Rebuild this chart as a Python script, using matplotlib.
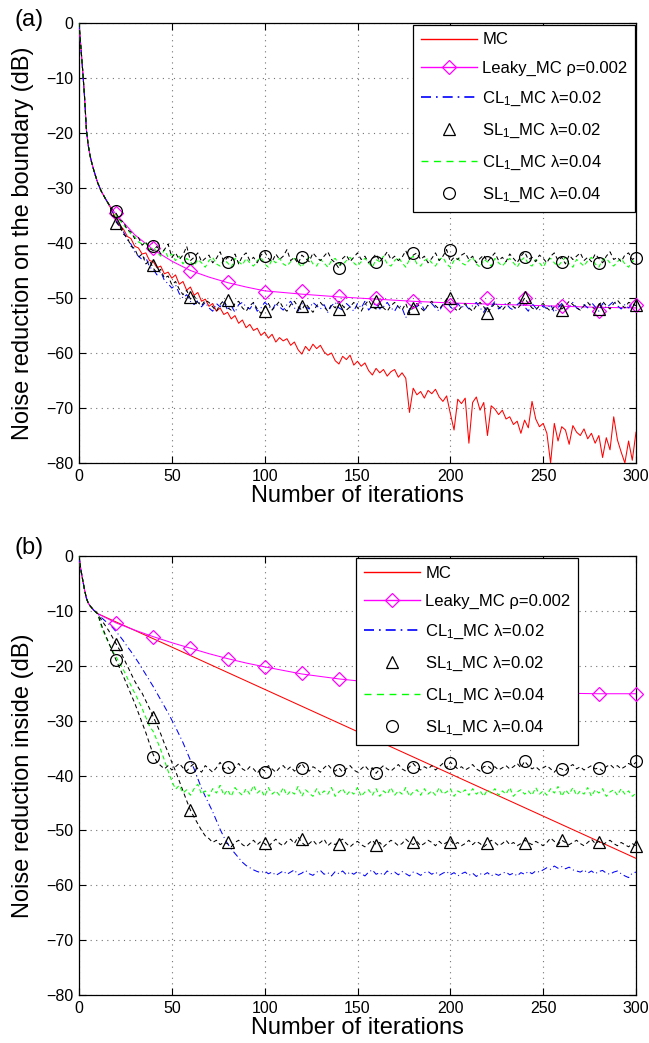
import numpy as np
import matplotlib
matplotlib.use("Agg")
import matplotlib.pyplot as plt
from matplotlib.lines import Line2D

plt.rcParams['font.family'] = ['Liberation Sans', 'DejaVu Sans']
plt.rcParams['mathtext.fontset'] = 'custom'
plt.rcParams['mathtext.rm'] = 'Liberation Sans'
plt.rcParams['mathtext.it'] = 'Liberation Sans:italic'
plt.rcParams['mathtext.default'] = 'regular'

# ---------------- iterations ----------------
iters = np.r_[0:10, 10:301:2]          # dense series sampling
mark_iters = np.arange(20, 301, 20)    # marker positions

x_ticks = [0, 50, 100, 150, 200, 250, 300]
y_ticks = [0, -10, -20, -30, -40, -50, -60, -70, -80]

labels = ['MC', 'Leaky_MC ρ=0.002', 'CL$_1$_MC λ=0.02', 'SL$_1$_MC λ=0.02',
          'CL$_1$_MC λ=0.04', 'SL$_1$_MC λ=0.04']

# ---------------- panel (a): boundary ----------------
early_a = [0, -4.3, -8.7, -13.5, -19.5, -22.3, -24.2, -25.6, -26.8, -27.9]

mc_a = early_a + [
    -29.0, -30.6, -31.8, -33.0, -34.2, -35.8, -36.9, -37.5, -38.8, -39.2,
    -40.6, -40.9, -42.0, -41.8, -43.2, -43.4, -44.5, -44.2, -45.6, -45.3,
    -46.4, -45.8, -47.5, -47.0, -48.6, -48.0, -49.5, -49.0, -50.6, -50.2,
    -51.5, -51.0, -52.4, -51.8, -53.0, -52.6, -53.8, -53.2, -54.6, -54.0,
    -55.4, -54.8, -55.9, -55.5, -56.8, -56.2, -57.3, -56.6, -58.0, -57.2,
    -57.8, -57.4, -58.6, -58.0, -59.4, -60.2, -58.8, -59.6, -58.4, -59.2,
    -58.6, -59.8, -60.4, -60.0, -61.4, -62.0, -60.6, -61.2, -60.4, -62.2,
    -61.5, -62.4, -61.8, -63.2, -64.0, -62.8, -63.6, -63.0, -64.2, -63.4,
    -63.0, -64.4, -63.6, -64.6, -70.8, -66.4, -67.6, -67.0, -68.2, -66.8,
    -67.4, -66.6, -68.0, -68.8, -67.8, -71.0, -74.0, -68.4, -69.2, -68.2,
    -76.4, -69.0, -68.0, -70.4, -69.0, -75.0, -69.6, -70.2, -71.2, -70.4,
    -72.0, -71.6, -73.0, -72.4, -74.6, -72.2, -73.6, -68.8, -72.0, -73.4,
    -72.8, -74.6, -80.0, -72.8, -76.0, -73.4, -74.0, -76.6, -73.2, -74.4,
    -75.0, -73.8, -75.6, -74.6, -76.4, -75.0, -79.0, -75.4, -77.6, -71.6,
    -75.8, -78.0, -80.0, -76.0, -79.5, -74.4]

cl02_a = early_a + [
    -29.0, -30.6, -31.8, -33.0, -34.3, -35.9, -37.2, -38.0, -39.4, -40.2,
    -41.6, -42.4, -43.0, -42.6, -44.4, -44.8, -45.8, -45.2, -46.8, -47.4,
    -48.2, -47.6, -49.2, -50.0, -49.4, -50.6, -51.2, -50.4, -51.6, -50.8,
    -51.8, -52.4, -51.0, -51.6, -50.6, -52.2, -51.4, -52.6, -51.2, -50.8,
    -51.6, -52.0, -51.0, -52.4, -51.8, -50.8, -51.4, -52.2, -51.0, -51.6,
    -52.2, -51.2, -50.6, -51.8, -52.4, -51.0, -51.6, -52.0, -50.8, -51.4,
    -52.0, -51.2, -52.6, -51.4, -50.8, -51.8, -52.2, -51.0, -51.6, -52.4,
    -51.0, -51.8, -50.6, -52.2, -51.4, -51.0, -52.0, -51.6, -50.8, -51.8,
    -52.4, -51.2, -51.8, -53.6, -52.0, -51.0, -51.6, -50.8, -52.2, -51.4,
    -51.0, -51.8, -52.4, -51.2, -50.6, -51.6, -52.2, -51.0, -51.8, -51.2,
    -52.0, -51.4, -50.8, -51.8, -52.6, -51.2, -51.6, -50.6, -52.0, -51.4,
    -51.0, -51.8, -52.2, -51.2, -50.6, -51.6, -52.4, -51.0, -51.8, -52.2,
    -51.4, -52.0, -51.2, -52.6, -51.8, -51.0, -52.2, -51.6, -50.8, -51.8,
    -52.2, -51.2, -51.8, -50.8, -51.6, -52.4, -51.0, -51.8, -51.2, -50.6,
    -51.4, -52.0, -51.2, -51.8, -51.0, -51.6]

sl02_a = early_a + [
    -29.0, -30.6, -31.8, -33.0, -34.4, -36.2, -37.0, -38.4, -39.0, -40.6,
    -41.0, -42.6, -42.0, -43.8, -43.2, -44.6, -45.4, -44.8, -46.4, -46.0,
    -47.6, -47.0, -48.4, -49.4, -48.6, -50.2, -49.6, -50.8, -51.4, -50.4,
    -50.8, -51.6, -52.4, -51.2, -50.4, -51.8, -52.2, -51.0, -50.6, -51.8,
    -52.4, -51.4, -50.8, -52.0, -52.8, -51.6, -51.0, -52.2, -51.4, -50.6,
    -51.8, -52.4, -51.2, -50.6, -51.6, -52.2, -51.0, -51.8, -52.6, -51.4,
    -50.8, -51.6, -52.4, -51.2, -51.8, -50.6, -51.4, -52.2, -51.6, -50.8,
    -51.8, -52.4, -51.2, -50.4, -51.6, -52.0, -51.0, -51.8, -52.4, -51.4,
    -50.8, -51.6, -52.2, -51.0, -52.8, -51.6, -51.0, -51.8, -52.4, -51.2,
    -50.6, -51.4, -52.0, -51.2, -50.2, -51.0, -51.8, -52.4, -51.6, -51.0,
    -51.8, -52.4, -51.4, -50.8, -51.6, -52.6, -51.8, -51.0, -51.6, -52.2,
    -51.4, -50.8, -51.6, -52.0, -51.2, -50.0, -51.0, -51.8, -52.2, -51.4,
    -51.0, -51.8, -52.4, -51.6, -51.0, -52.0, -51.4, -50.6, -51.2, -51.8,
    -52.2, -51.4, -50.8, -51.6, -52.0, -51.2, -50.6, -51.4, -52.0, -51.0,
    -50.4, -51.2, -51.8, -50.8, -51.0, -51.4]

cl04_a = early_a + [
    -29.0, -30.6, -31.8, -32.9, -33.9, -35.0, -35.8, -36.8, -37.4, -38.4,
    -38.8, -39.8, -40.2, -40.0, -41.2, -40.8, -41.6, -42.4, -41.2, -42.6,
    -42.0, -43.2, -42.4, -43.8, -42.8, -43.4, -44.2, -43.0, -43.6, -44.4,
    -43.2, -42.6, -43.8, -44.2, -43.0, -43.6, -44.4, -42.8, -43.4, -44.0,
    -42.8, -43.6, -44.2, -43.2, -42.6, -43.8, -44.4, -43.0, -43.6, -42.8,
    -43.8, -44.2, -43.4, -42.8, -43.6, -44.4, -43.2, -42.6, -43.8, -44.2,
    -43.0, -43.6, -44.4, -43.2, -42.8, -43.8, -44.0, -43.2, -42.6, -43.6,
    -44.2, -43.4, -42.8, -43.6, -44.4, -43.0, -43.4, -42.4, -43.8, -44.2,
    -43.2, -42.6, -43.6, -44.4, -43.0, -42.4, -43.8, -44.2, -43.2, -42.8,
    -43.6, -44.2, -43.0, -42.6, -43.8, -44.4, -43.2, -42.8, -43.6, -44.0,
    -43.2, -42.6, -43.8, -44.4, -43.0, -43.4, -44.2, -42.8, -43.6, -44.2,
    -43.4, -42.8, -43.6, -44.4, -43.2, -42.6, -43.8, -44.2, -43.0, -43.6,
    -44.4, -43.2, -42.8, -43.6, -44.2, -43.4, -42.6, -43.8, -44.4, -43.0,
    -43.6, -44.2, -43.2, -42.6, -43.8, -44.4, -43.0, -42.8, -43.6, -44.2,
    -43.4, -42.8, -43.8, -44.4, -43.2, -43.6]

sl04_a = early_a + [
    -29.0, -30.6, -31.8, -32.9, -33.9, -34.6, -35.8, -36.2, -37.6, -38.0,
    -39.2, -39.0, -40.4, -39.8, -41.0, -41.4, -40.6, -42.0, -41.2, -40.2,
    -42.6, -41.8, -43.0, -42.2, -40.6, -43.2, -42.6, -41.8, -43.4, -42.8,
    -42.2, -43.6, -42.8, -41.6, -43.4, -42.6, -43.2, -42.0, -43.8, -42.4,
    -41.8, -43.2, -42.6, -43.6, -42.2, -41.6, -42.8, -43.4, -42.0, -43.0,
    -42.4, -41.2, -43.2, -42.6, -43.8, -42.2, -42.8, -43.4, -41.8, -42.6,
    -43.2, -42.4, -41.6, -43.0, -43.6, -44.6, -42.8, -42.2, -43.4, -42.6,
    -41.8, -43.0, -42.4, -43.6, -42.8, -42.0, -43.4, -42.6, -41.6, -43.0,
    -42.4, -43.2, -42.6, -41.4, -43.0, -42.2, -41.8, -43.0, -42.4, -43.6,
    -42.8, -41.8, -43.2, -42.4, -41.2, -43.4, -42.6, -43.0, -42.2, -41.8,
    -43.0, -42.4, -43.6, -42.8, -42.2, -43.4, -42.6, -41.8, -43.2, -42.6,
    -43.4, -42.0, -42.8, -43.6, -42.4, -41.6, -43.0, -42.6, -43.4, -42.2,
    -42.8, -43.6, -42.4, -41.8, -43.2, -42.6, -43.8, -42.2, -43.0, -42.4,
    -41.8, -43.2, -42.6, -43.4, -42.0, -42.8, -43.6, -42.4, -41.6, -43.0,
    -42.6, -43.4, -42.2, -41.8, -43.0, -42.6]

leaky_a_iters = [0, 1, 2, 3, 4, 5, 6, 7, 8, 9, 10, 12, 14, 16, 18, 20, 30, 40, 50,
                 60, 70, 80, 90, 100, 120, 140, 160, 180, 200, 220, 240, 260, 280, 300]
leaky_a = early_a + [-29.0, -30.6, -31.8, -32.9, -33.9, -34.8, -38.5, -41.2, -43.3,
                     -45.0, -46.2, -47.2, -48.0, -48.7, -49.3, -49.8, -50.2, -50.6,
                     -50.9, -51.1, -51.3, -51.5, -51.7, -51.8]

leaky_mk_a = [-34.6, -40.9, -45.0, -47.0, -48.9, -48.8, -49.7, -50.0, -50.6, -51.2,
              -50.0, -50.0, -51.4, -52.3, -51.2]
tri_mk_a = [-36.3, -44.0, -49.8, -50.4, -52.3, -51.4, -52.0, -50.6, -51.8, -50.0,
            -52.8, -49.9, -52.1, -52.0, -51.2]
circ_mk_a = [-34.1, -40.6, -42.8, -43.4, -42.3, -42.5, -44.6, -43.4, -41.9, -41.3,
             -43.4, -42.5, -43.4, -43.7, -42.8]

# ---------------- panel (b): inside ----------------
early_b = [0, -2.5, -4.4, -6.2, -7.7, -8.6, -9.1, -9.5, -9.9, -10.2]

mc_b_iters = [0, 1, 2, 3, 4, 5, 6, 7, 8, 9, 10, 50, 100, 150, 200, 250, 300]
mc_b = early_b + [-10.5, -16.6, -24.3, -32.0, -39.7, -47.4, -55.1]

leaky_b_iters = [0, 1, 2, 3, 4, 5, 6, 7, 8, 9, 10, 20, 30, 40, 50, 60, 70, 80, 90,
                 100, 120, 140, 160, 180, 200, 220, 240, 260, 280, 300]
leaky_b = early_b + [-10.5, -12.2, -13.5, -14.7, -15.8, -16.8, -17.8, -18.7, -19.5,
                     -20.2, -21.5, -22.4, -23.1, -23.7, -24.1, -24.5, -24.8, -25.0,
                     -25.1, -25.1]

cl02_b = early_b + [
    -10.5, -11.2, -11.8, -12.4, -13.0, -13.8, -14.6, -15.5, -16.5, -17.4,
    -18.4, -19.4, -20.5, -21.6, -22.7, -23.8, -25.0, -26.2, -27.4, -28.6,
    -29.9, -31.2, -32.6, -34.0, -35.6, -37.2, -38.8, -40.6, -42.3, -43.8,
    -45.2, -46.6, -48.2, -49.8, -51.2, -52.4, -53.4, -54.2, -55.0, -55.8,
    -56.4, -56.8, -57.2, -57.5, -57.7, -57.4, -57.9, -57.6, -58.2, -57.8,
    -57.4, -58.0, -57.6, -57.2, -58.1, -57.8, -57.3, -57.9, -58.2, -57.6,
    -57.3, -58.0, -57.7, -58.3, -57.5, -57.9, -57.4, -58.1, -57.6, -58.0,
    -57.5, -57.9, -58.3, -57.6, -57.2, -58.0, -57.7, -58.2, -57.4, -57.9,
    -57.6, -58.1, -57.5, -57.9, -58.3, -57.6, -57.8, -58.2, -57.7, -57.5,
    -58.0, -57.6, -58.2, -57.8, -57.5, -58.1, -57.7, -58.3, -57.9, -57.6,
    -58.2, -57.8, -58.4, -57.9, -58.1, -57.7, -58.3, -57.9, -58.2, -57.8,
    -57.6, -58.1, -57.8, -58.3, -57.7, -58.0, -57.5, -57.9, -57.4, -57.6,
    -57.2, -56.8, -57.1, -56.5, -56.9, -56.6, -57.0, -56.7, -57.2, -57.4,
    -57.6, -57.2, -57.8, -57.4, -57.9, -57.5, -57.3, -57.8, -58.0, -57.6,
    -57.4, -57.9, -58.3, -58.6, -57.8, -57.6]

cl04_b = early_b + [
    -10.5, -12.8, -14.5, -15.9, -17.2, -18.4, -19.6, -20.8, -22.2, -23.6,
    -25.0, -26.3, -27.8, -29.4, -31.0, -32.0, -33.6, -35.3, -37.2, -39.2,
    -41.0, -42.5, -41.8, -43.2, -42.6, -43.6, -42.4, -41.6, -43.4, -42.8,
    -43.8, -42.4, -43.2, -41.8, -43.6, -42.6, -43.8, -42.2, -43.0, -43.6,
    -42.4, -43.4, -41.8, -43.2, -42.6, -43.8, -42.2, -43.4, -42.8, -43.6,
    -42.2, -43.6, -42.8, -43.4, -42.0, -43.8, -42.6, -43.2, -43.8, -42.4,
    -43.6, -42.8, -43.4, -42.2, -43.8, -43.0, -42.4, -43.6, -42.8, -43.4,
    -42.2, -43.8, -43.0, -42.6, -43.6, -42.4, -43.8, -42.8, -43.4, -42.2,
    -43.6, -42.8, -43.4, -42.2, -43.8, -43.0, -42.6, -43.6, -42.4, -43.4,
    -42.8, -43.6, -42.2, -43.4, -43.0, -42.4, -43.8, -42.8, -43.2, -42.6,
    -43.6, -42.4, -43.4, -42.8, -43.8, -42.6, -43.2, -42.4, -43.6, -42.8,
    -43.4, -42.2, -43.8, -43.0, -42.6, -43.4, -42.8, -43.6, -42.2, -43.4,
    -42.8, -43.6, -42.4, -43.2, -42.0, -43.8, -42.6, -43.4, -42.2, -43.6,
    -42.8, -43.4, -42.2, -43.8, -42.6, -43.2, -42.4, -43.8, -43.0, -42.6,
    -43.6, -42.4, -43.4, -42.8, -43.8, -43.2]

sl02_b = early_b + [
    -10.5, -11.6, -12.6, -13.6, -14.8, -16.0, -17.2, -18.6, -20.0, -21.4,
    -22.8, -24.0, -25.0, -26.4, -27.8, -29.3, -30.8, -32.4, -34.2, -35.8,
    -37.6, -39.2, -41.0, -42.8, -44.6, -46.3, -47.6, -48.8, -50.0, -51.0,
    -51.5, -52.2, -51.8, -52.6, -52.2, -52.4, -53.0, -52.2, -51.8, -52.6,
    -53.0, -52.4, -51.8, -52.6, -52.0, -52.4, -53.0, -52.2, -51.6, -52.4,
    -52.8, -52.0, -51.6, -52.4, -51.2, -52.2, -52.8, -52.4, -51.8, -52.6,
    -52.2, -51.6, -52.8, -52.2, -52.6, -52.0, -51.6, -52.4, -53.0, -52.4,
    -52.0, -52.6, -53.0, -52.4, -51.8, -52.6, -52.2, -53.0, -52.4, -51.8,
    -52.2, -52.8, -52.4, -51.6, -52.2, -52.6, -52.0, -52.8, -52.4, -51.8,
    -52.2, -52.8, -52.0, -52.6, -52.2, -51.8, -52.6, -52.2, -52.8, -52.4,
    -51.8, -52.6, -52.0, -52.4, -53.0, -52.4, -51.8, -52.2, -52.8, -52.4,
    -51.8, -52.6, -52.2, -52.8, -52.4, -51.8, -52.2, -52.6, -52.0, -52.4,
    -52.8, -52.2, -51.4, -52.0, -52.6, -51.8, -52.2, -52.6, -52.2, -51.8,
    -52.4, -52.8, -52.2, -51.6, -52.4, -52.0, -52.6, -52.2, -51.8, -52.4,
    -52.8, -52.2, -52.6, -53.0, -52.4, -52.8]

sl04_b = early_b + [
    -10.5, -12.5, -14.2, -15.8, -17.4, -19.0, -20.5, -22.0, -23.6, -25.2,
    -26.8, -28.6, -30.4, -32.2, -34.2, -36.2, -37.6, -38.2, -38.8, -38.2,
    -39.0, -38.4, -37.8, -38.6, -39.2, -38.4, -37.8, -38.8, -39.4, -38.2,
    -38.8, -39.4, -38.6, -37.6, -38.8, -38.4, -39.2, -38.6, -37.8, -38.8,
    -39.2, -38.4, -38.8, -39.6, -38.6, -39.2, -38.2, -38.8, -39.4, -38.6,
    -38.2, -39.0, -38.4, -39.2, -38.6, -37.8, -38.8, -39.2, -38.4, -38.8,
    -39.4, -38.6, -38.0, -38.8, -39.2, -38.6, -39.4, -38.8, -38.2, -39.0,
    -39.4, -38.8, -38.2, -39.0, -38.6, -39.6, -38.8, -38.2, -38.8, -39.2,
    -38.6, -38.0, -38.8, -39.2, -38.4, -37.8, -38.6, -39.0, -38.4, -38.8,
    -38.2, -39.0, -38.4, -37.8, -38.6, -37.6, -38.2, -38.8, -38.4, -39.0,
    -38.6, -38.0, -38.8, -39.2, -38.4, -38.2, -38.8, -38.4, -39.0, -38.6,
    -38.2, -38.8, -38.4, -37.8, -38.6, -37.4, -38.2, -38.8, -38.4, -39.0,
    -38.6, -38.2, -38.8, -39.4, -38.6, -38.8, -39.2, -38.4, -38.0, -38.8,
    -38.4, -39.0, -38.6, -38.2, -38.8, -38.6, -39.2, -38.4, -38.0, -38.6,
    -38.2, -38.8, -38.4, -37.8, -38.2, -37.6]

leaky_mk_b = [-12.2, -14.7, -16.8, -18.7, -20.2, -21.4, -22.4, -23.1, -23.7, -24.1,
              -24.5, -24.8, -25.0, -25.1, -25.1]
tri_mk_b = [-16.0, -29.3, -46.3, -52.2, -52.3, -51.5, -52.5, -52.7, -52.1, -52.1,
            -52.3, -52.3, -51.7, -52.2, -52.8]
circ_mk_b = [-19.0, -36.7, -38.4, -38.4, -39.3, -38.7, -39.0, -39.5, -38.4, -37.8,
             -38.4, -37.3, -38.9, -38.7, -37.4]

# ---------------- styling ----------------
RED = '#ff0000'
MAG = '#ff00ff'
BLUE = '#0000ff'
GREEN = '#00ff00'
LW = 0.75
TICK_FS = 11.5
LABEL_FS = 17
LEG_FS = 12

W, H = 649, 1043
fig = plt.figure(figsize=(W / 100, H / 100), dpi=100)


def make_axes(top_px, bot_px):
    return fig.add_axes([79 / W, (H - bot_px) / H, 557 / W, (bot_px - top_px) / H])


def draw_panel(ax, mc_x, mc_y, lk_x, lk_y, lk_mk, cl02, sl02, tri, cl04, sl04, circ):
    ax.plot(mc_x, mc_y, color=RED, lw=LW, zorder=3)
    ax.plot(lk_x, lk_y, color=MAG, lw=LW, zorder=3)
    ax.plot(mark_iters, lk_mk, ls='none', marker='D', ms=7.5, mfc='none', mec=MAG,
            mew=0.9, zorder=4, clip_on=False)
    ax.plot(iters, cl02, color=BLUE, lw=LW, ls=(0, (6, 3, 1, 3)), zorder=3)
    ax.plot(iters, sl02, color='black', lw=LW, ls=(0, (4, 3)), zorder=3)
    ax.plot(mark_iters, tri, ls='none', marker='^', ms=9, mfc='none', mec='black',
            mew=0.9, zorder=4, clip_on=False)
    ax.plot(iters, cl04, color=GREEN, lw=LW, ls=(0, (4, 3)), zorder=3)
    ax.plot(iters, sl04, color='black', lw=LW, ls=(0, (4, 3)), zorder=3)
    ax.plot(mark_iters, circ, ls='none', marker='o', ms=8.5, mfc='none', mec='black',
            mew=0.9, zorder=4, clip_on=False)

    ax.set_xlim(0, 300)
    ax.set_ylim(-80, 0)
    ax.set_xticks(x_ticks)
    ax.set_yticks(y_ticks)
    ax.tick_params(direction='in', top=True, right=True, length=5, width=0.8,
                   labelsize=TICK_FS, pad=4)
    ax.grid(True, color='0.45', ls=(0, (1, 4)), lw=0.8)
    for s in ax.spines.values():
        s.set_linewidth(0.9)
    ax.set_xlabel('Number of iterations', fontsize=LABEL_FS, labelpad=1)


def legend_handles():
    return [
        Line2D([], [], color=RED, lw=1.0),
        Line2D([], [], color=MAG, lw=1.0, marker='D', ms=7.5, mfc='none', mec=MAG, mew=0.9),
        Line2D([], [], color=BLUE, lw=1.2, ls=(0, (6, 3, 1, 3))),
        Line2D([], [], ls='none', marker='^', ms=9, mfc='none', mec='black', mew=0.9),
        Line2D([], [], color=GREEN, lw=1.0, ls=(0, (5, 4))),
        Line2D([], [], ls='none', marker='o', ms=8.5, mfc='none', mec='black', mew=0.9),
    ]


def add_legend(ax, right_px, top_px):
    leg = ax.legend(legend_handles(), labels, loc='upper right',
                    bbox_to_anchor=(right_px / W, 1 - top_px / H),
                    bbox_transform=fig.transFigure, borderaxespad=0, fontsize=LEG_FS,
                    handlelength=3.4, handletextpad=0.3, labelspacing=0.82,
                    borderpad=0.45, fancybox=False, framealpha=1, edgecolor='black')
    leg.get_frame().set_linewidth(0.9)
    leg.set_zorder(10)
    return leg


# panel (a)
ax_a = make_axes(23, 463)
draw_panel(ax_a, iters, mc_a, leaky_a_iters, leaky_a, leaky_mk_a,
           cl02_a, sl02_a, tri_mk_a, cl04_a, sl04_a, circ_mk_a)
ax_a.set_ylabel('Noise reduction on the boundary (dB)', fontsize=LABEL_FS)
ax_a.yaxis.set_label_coords(-45 / 557, 0.5)
add_legend(ax_a, 635, 25)

# panel (b)
ax_b = make_axes(556, 995)
draw_panel(ax_b, mc_b_iters, mc_b, leaky_b_iters, leaky_b, leaky_mk_b,
           cl02_b, sl02_b, tri_mk_b, cl04_b, sl04_b, circ_mk_b)
ax_b.set_ylabel('Noise reduction inside (dB)', fontsize=LABEL_FS)
ax_b.yaxis.set_label_coords(-45 / 557, 0.5)
add_legend(ax_b, 578, 558)

fig.text(29 / W, 1 - 20 / H, '(a)', fontsize=LABEL_FS, ha='center', va='center')
fig.text(29 / W, 1 - 548 / H, '(b)', fontsize=LABEL_FS, ha='center', va='center')

fig.savefig('out.png', dpi=100)
